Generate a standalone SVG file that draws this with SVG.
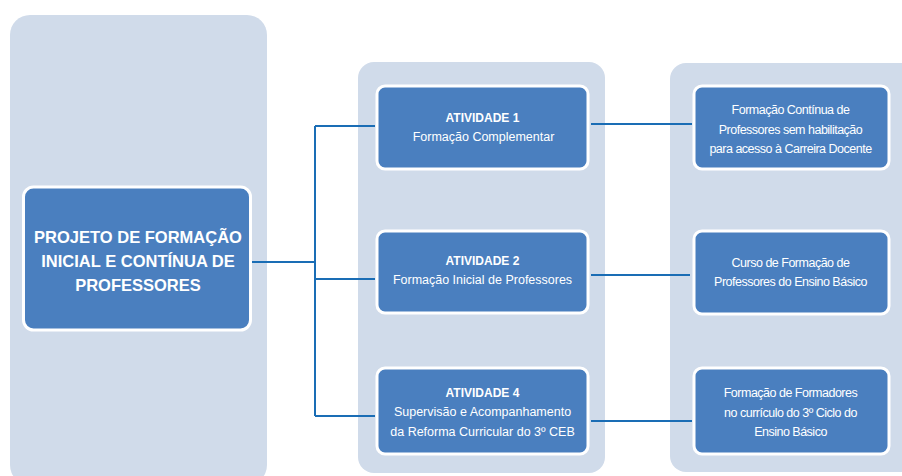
<svg xmlns="http://www.w3.org/2000/svg" width="902" height="476" viewBox="0 0 902 476">
<style>
.panel{fill:#d0dbea}
.box{fill:#4a7fbf;stroke:#ffffff;stroke-width:3}
.t{font-family:"Liberation Sans",Arial,sans-serif;fill:#ffffff;text-anchor:middle;font-size:12.5px}
.n{letter-spacing:-0.5px}
.b{font-weight:bold;font-size:12px}
.title{font-family:"Liberation Sans",Arial,sans-serif;fill:#ffffff;text-anchor:middle;font-size:16.5px;font-weight:bold}
.c{stroke:#1a6db5;stroke-width:2;fill:none}
</style>
<rect width="902" height="476" fill="#ffffff"/>
<rect class="panel" x="10" y="15" width="257" height="470" rx="20"/>
<rect class="panel" x="358" y="62" width="247" height="411" rx="16"/>
<rect class="panel" x="670" y="63" width="250" height="409" rx="16"/>
<g id="connectors">
<path class="c" d="M252 262H315M315 126V416M315 126H375M315 279H375M315 416H375"/>
<path class="c" d="M591 124H692M591 275H690M591 421H692"/>
</g>
<g id="main">
<rect class="box" x="23.5" y="187" width="227" height="143" rx="10"/>
<text class="title" x="138" y="243">PROJETO DE FORMAÇÃO</text>
<text class="title" x="138" y="267">INICIAL E CONTÍNUA DE</text>
<text class="title" x="138" y="291">PROFESSORES</text>
</g>
<g id="a1">
<rect class="box" x="377" y="86" width="211" height="83" rx="8"/>
<text class="t b" x="482.5" y="122">ATIVIDADE 1</text>
<text class="t" x="483.5" y="141">Formação Complementar</text>
</g>
<g id="a2">
<rect class="box" x="377" y="231" width="211" height="82" rx="8"/>
<text class="t b" x="482.5" y="265">ATIVIDADE 2</text>
<text class="t" x="482.5" y="284">Formação Inicial de Professores</text>
</g>
<g id="a4">
<rect class="box" x="377" y="368" width="211" height="86" rx="8"/>
<text class="t b" x="482.5" y="397">ATIVIDADE 4</text>
<text class="t" x="482.5" y="416">Supervisão e Acompanhamento</text>
<text class="t" x="482.5" y="436">da Reforma Curricular do 3º CEB</text>
</g>
<g id="r1">
<rect class="box" x="694" y="86" width="195" height="83" rx="8"/>
<text class="t n" x="790.5" y="114">Formação Contínua de</text>
<text class="t n" x="790.5" y="134">Professores sem habilitação</text>
<text class="t n" x="790.5" y="153">para acesso à Carreira Docente</text>
</g>
<g id="r2">
<rect class="box" x="694" y="231" width="195" height="83" rx="8"/>
<text class="t n" x="790.5" y="267">Curso de Formação de</text>
<text class="t n" x="790.5" y="286">Professores do Ensino Básico</text>
</g>
<g id="r3">
<rect class="box" x="694" y="368" width="195" height="86" rx="8"/>
<text class="t n" x="790.5" y="397">Formação de Formadores</text>
<text class="t n" x="790.5" y="417">no currículo do 3º Ciclo do</text>
<text class="t n" x="790.5" y="436">Ensino Básico</text>
</g>
</svg>
